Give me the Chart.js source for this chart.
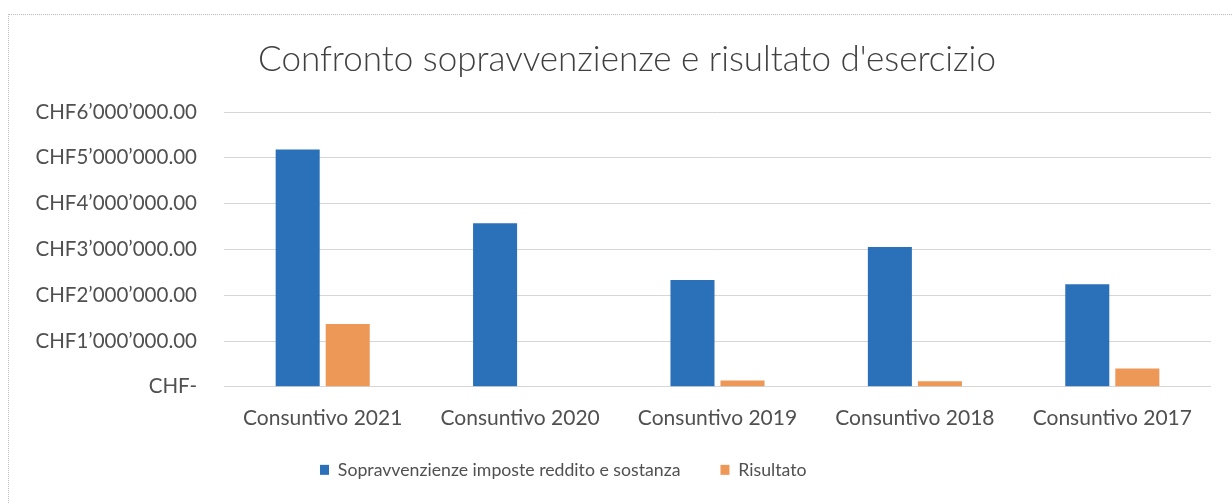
<!DOCTYPE html>
<html>
<head>
<meta charset="utf-8">
<script src="https://cdn.jsdelivr.net/npm/chart.js@4"></script>
<style>
  body { margin: 0; background: #fff; }
  #wrap { position: relative; width: 1232px; height: 503px; }
  #frame { position: absolute; left: 8px; top: 14px; right: -2px; bottom: -2px; border: 1px dotted #bdbdbd; }
  canvas { position: absolute; left: 0; top: 0; }
</style>
</head>
<body>
<div id="wrap">
  <div id="frame"></div>
  <canvas id="myChart" width="1232" height="503"></canvas>
</div>
<script>
const categories = ['Consuntivo 2021', 'Consuntivo 2020', 'Consuntivo 2019', 'Consuntivo 2018', 'Consuntivo 2017'];
const sopravvenienze = [5180000, 3570000, 2330000, 3050000, 2240000];
const risultato = [1370000, 0, 140000, 120000, 400000];
const yTickLabels = ['CHF-', 'CHF1\u2019000\u2019000.00', 'CHF2\u2019000\u2019000.00', 'CHF3\u2019000\u2019000.00',
  'CHF4\u2019000\u2019000.00', 'CHF5\u2019000\u2019000.00', 'CHF6\u2019000\u2019000.00'];

const textColor = '#505050';
const font = 'Lato, "Open Sans", sans-serif';

// legend: fixed height, then moved where the original has it
const legendSpacing = {
  id: 'legendSpacing',
  beforeInit(chart) {
    const fit = chart.legend.fit;
    chart.legend.fit = function () {
      fit.bind(chart.legend)();
      this.height = 53;
    };
  },
  afterLayout(chart) {
    chart.legend.top = 421;
    chart.legend.left = 280;
    chart.titleBlock.left = 43;
    chart.titleBlock.right = 1211;
  }
};

const ctx = document.getElementById('myChart');

new Chart(ctx, {
  type: 'bar',
  data: {
    labels: categories,
    datasets: [{
      label: 'Sopravvenzienze imposte reddito e sostanza',
      data: sopravvenienze,
      backgroundColor: '#2b71ba'
    }, {
      label: 'Risultato',
      data: risultato,
      backgroundColor: '#ee9858'
    }]
  },
  options: {
    responsive: false,
    animation: false,
    layout: { padding: { left: 0, right: 21, top: 0, bottom: 0 } },
    datasets: { bar: { categoryPercentage: 0.507, barPercentage: 0.88 } },
    plugins: {
      title: {
        display: true,
        text: "Confronto sopravvenzienze e risultato d'esercizio",
        color: '#404040',
        font: { family: font, size: 35, weight: '300' },
        padding: { top: 39, bottom: 31 }
      },
      legend: {
        position: 'bottom',
        align: 'start',
        labels: {
          color: textColor,
          font: { family: font, size: 17.7 },
          boxWidth: 9,
          boxHeight: 10,
          padding: 40
        }
      },
      tooltip: { enabled: false }
    },
    scales: {
      x: {
        grid: { display: false, drawTicks: false },
        border: { display: false },
        ticks: { color: textColor, font: { family: font, size: 21 }, padding: 19 }
      },
      y: {
        min: 0,
        max: 6000000,
        grid: { color: '#d6d6d6', drawTicks: false },
        border: { display: false },
        ticks: {
          stepSize: 1000000,
          color: textColor,
          font: { family: font, size: 20.5 },
          padding: 27,
          callback: (v, i) => yTickLabels[i]
        },
        afterFit(scale) { scale.width = 224; }
      }
    }
  },
  plugins: [legendSpacing]
});
</script>
</body>
</html>
